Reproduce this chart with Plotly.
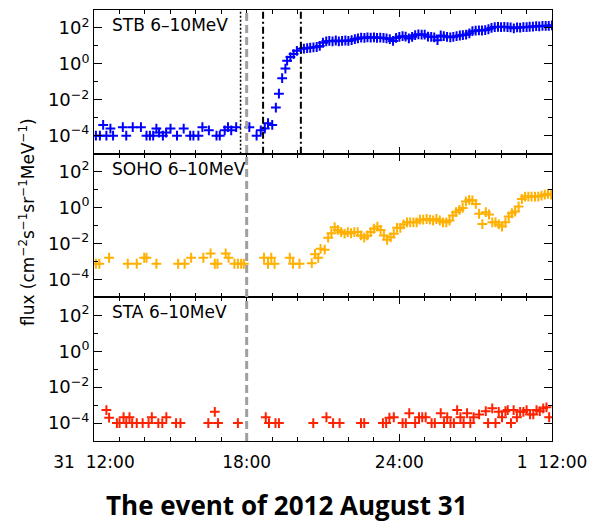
import plotly.graph_objects as go

# x = hours after 2012-08-31 12:00 UT
stb_hours = [0.10, 0.31, 0.48, 0.65, 0.86, 1.00, 1.51, 1.69, 2.03, 2.46, 2.75, 2.93, 3.10, 3.27, 3.41,
             3.61, 3.78, 4.01, 4.35, 4.70, 5.04, 5.21, 5.47, 5.68, 6.02, 6.42, 6.59, 6.85, 7.02, 7.19,
             7.45, 8.14, 8.52, 8.74, 8.95, 9.12, 9.34, 9.53, 9.69, 9.86, 10.03, 10.12, 10.29, 10.46,
             10.63, 10.85,
             11.00, 11.17, 11.33, 11.50, 11.67, 11.83, 12.00, 12.17, 12.33, 12.50, 12.67, 12.83, 13.00,
             13.17, 13.33, 13.50, 13.67, 13.83, 14.00, 14.17, 14.33, 14.50, 14.67, 14.83, 15.00, 15.17,
             15.33, 15.50, 15.67, 15.83, 16.00, 16.17, 16.33, 16.50, 16.67, 16.83, 17.00, 17.17, 17.33,
             17.50, 17.67, 17.83, 18.00, 18.17, 18.33, 18.50, 18.67, 18.83, 19.00, 19.17, 19.33, 19.50,
             19.67, 19.83, 20.00, 20.17, 20.33, 20.50, 20.67, 20.83, 21.00, 21.17, 21.33, 21.50, 21.67,
             21.83, 22.00, 22.17, 22.33, 22.50, 22.67, 22.83, 23.00, 23.17, 23.33, 23.50, 23.67, 23.83,
             24.00]
stb_flux = [1e-4, 1e-4, 4e-4, 1e-4, 2.5e-4, 1e-4, 3e-4, 1e-4, 3e-4, 3e-4, 1e-4, 1e-4, 1e-4, 2.5e-4, 1.5e-4,
            1e-4, 1.5e-4, 2.5e-4, 1e-4, 2.5e-4, 1e-4, 1e-4, 1e-4, 3e-4, 2e-4, 1e-4, 1e-4, 2e-4, 3e-4, 2e-4,
            3e-4, 3e-4, 1e-4, 2e-4, 2.5e-4, 5e-4, 4e-4, 3.7e-3, 2.2e-2, 0.16, 0.55, 1.5, 2.4, 3.5,
            5.3, 7.0,
            7.1, 7.6, 7.9, 8.3, 8.7, 10, 15, 18, 19, 18, 20, 18, 19,
            20, 19, 21, 24, 26, 29, 28, 30, 29, 30, 28, 29, 28,
            26, 24, 19, 28, 32, 35, 33, 26, 32, 40, 44, 42, 43,
            33, 32, 30, 21, 38, 35, 32, 30, 32, 35, 38, 40, 42,
            50, 66, 71, 74, 72, 76, 85, 100, 112, 115, 112, 115, 110,
            107, 95, 107, 105, 112, 110, 117, 120, 126, 123, 132, 129, 132,
            141]

soho_hours = [0.10, 0.28, 0.79, 1.77, 2.24, 2.63, 2.75, 3.27, 4.41, 4.75, 5.09, 5.73, 6.11, 6.33, 6.47,
              6.90, 7.05, 7.36, 7.54, 7.71, 7.85, 8.91, 9.12, 9.29, 9.46, 10.26, 10.43, 10.77,
              11.41, 11.58, 11.75, 11.87, 12.09, 12.27, 12.44, 12.61, 12.78, 12.95, 13.13, 13.30, 13.47,
              13.64, 13.82, 13.99, 14.16, 14.33, 14.50, 14.67, 14.85, 15.02, 15.19, 15.36, 15.54, 15.71,
              15.88, 16.05, 16.22, 16.40, 16.57, 16.74, 16.91, 17.08, 17.25, 17.43, 17.60, 17.77, 17.94,
              18.12, 18.29, 18.46, 18.63, 18.80, 18.97, 19.15, 19.32, 19.49, 19.66, 19.83, 20.01, 20.18,
              20.35, 20.53, 20.70, 20.87, 21.04, 21.21, 21.38, 21.56, 21.73, 21.90, 22.07, 22.25, 22.42,
              22.59, 22.76, 22.93, 23.11, 23.28, 23.45, 23.62, 23.79, 23.96]
soho_flux = [7.4e-4, 7.4e-4, 1.6e-3, 7.4e-4, 7.4e-4, 1.6e-3, 1.6e-3, 7.4e-4, 7.4e-4, 7.4e-4, 1.6e-3, 1.6e-3,
             2.8e-3, 7.4e-4, 7.4e-4, 2.8e-3, 1.6e-3, 7.4e-4, 7.4e-4, 7.4e-4, 7.4e-4, 1.6e-3, 7.4e-4, 1.6e-3,
             7.4e-4, 1.6e-3, 7.4e-4, 7.4e-4,
             8e-4, 2.5e-3, 1.6e-3, 5e-3, 4.5e-3, 2.1e-2, 3.7e-2, 8e-2, 5.7e-2, 4.3e-2, 3.5e-2, 4.3e-2, 3.7e-2,
             4.3e-2, 4.3e-2, 2.8e-2, 2.1e-2, 2.8e-2, 4.3e-2, 6.6e-2, 8.7e-2, 5.7e-2, 2.8e-2, 1.6e-2, 2.2e-2,
             3.5e-2, 7.4e-2, 7.4e-2, 0.115, 0.15, 0.15, 0.15, 0.15, 0.21, 0.21, 0.23, 0.21, 0.19, 0.23,
             0.19, 0.15, 0.15, 0.19, 0.36, 0.55, 0.74, 0.95, 2.2, 2.7, 2.5, 1.6, 0.45,
             0.12, 0.55, 0.41, 0.15, 0.15, 0.115, 0.087, 0.15, 0.32, 0.48, 0.6, 1.15, 3.0,
             4.1, 4.1, 4.1, 4.1, 4.1, 4.6, 5.2, 5.8, 5.2]

sta_hours = [0.65, 0.79, 1.20, 1.34, 1.55, 1.69, 1.86, 2.00, 2.24, 2.55, 2.86, 3.03, 3.37, 3.58, 3.79,
             4.30, 4.53, 5.99, 6.33, 6.50, 7.54, 9.00, 9.17, 9.51, 9.69,
             11.49, 12.18, 12.53, 12.87, 13.99, 14.16, 15.14, 15.31, 15.48, 15.71, 16.17, 16.34, 16.52,
             16.83, 17.03, 17.20, 17.38, 17.69, 17.86, 18.17, 18.34, 18.51, 18.68, 18.86, 19.03, 19.20,
             19.37, 19.55, 19.72, 19.89, 20.18, 20.53, 20.65, 20.87, 21.04, 21.21, 21.38, 21.56, 21.68,
             21.85, 21.99, 22.16, 22.33, 22.50, 22.67, 22.85, 23.02, 23.19, 23.36, 23.54, 23.71, 23.85]
sta_flux = [5.3e-4, 2e-4, 1e-4, 1e-4, 2.1e-4, 1e-4, 2.1e-4, 1e-4, 1e-4, 1e-4, 1e-4, 2.1e-4, 1e-4, 1e-4, 2.1e-4,
            1e-4, 1e-4, 1e-4, 4.2e-4, 1e-4, 1e-4, 2.1e-4, 1e-4, 1e-4, 1e-4,
            1e-4, 2.1e-4, 1e-4, 1e-4, 1e-4, 1e-4, 1e-4, 1e-4, 2e-4, 2.1e-4, 1e-4, 1e-4, 3.5e-4,
            1e-4, 2.1e-4, 2.1e-4, 2.1e-4, 1e-4, 1e-4, 3.5e-4, 1e-4, 2.1e-4, 1e-4, 1e-4, 5.3e-4, 2.1e-4,
            1e-4, 3.5e-4, 1e-4, 2.1e-4, 3e-4, 4.6e-4, 1e-4, 6.6e-4, 1e-4, 4.2e-4, 2.1e-4, 4.6e-4, 5.3e-4,
            1e-4, 5.3e-4, 2.1e-4, 4.2e-4, 4.2e-4, 5.3e-4, 3e-4, 3e-4, 5.3e-4, 4.6e-4, 6.6e-4, 7.5e-4, 2.1e-4]

panel_labels = ["STB 6–10MeV", "SOHO 6–10MeV", "STA 6–10MeV"]
x_tick_vals = [0, 8, 16, 24]
x_tick_text = ["31\u00a0\u00a012:00", "18:00", "24:00", "1\u00a0\u00a012:00"]
y_tick_vals = [1e-4, 1e-2, 1, 1e2]
y_tick_text = ["10<sup>−4</sup>", "10<sup>−2</sup>", "10<sup>0</sup>", "10<sup>2</sup>"]
y_minor_vals = [1e-5, 1e-3, 1e-1, 1e1, 1e3]
dotted_line_hour = 7.68
gray_line_hour = 8.0
dashdot_line_hours = [8.86, 10.84]

fig = go.Figure()
series = [(stb_hours, stb_flux, "#0000FF", "x", "y"),
          (soho_hours, soho_flux, "#FFB000", "x2", "y2"),
          (sta_hours, sta_flux, "#FF2200", "x3", "y3")]
for xs, ys, col, xa, ya in series:
    fig.add_trace(go.Scatter(x=xs, y=ys, mode="markers", xaxis=xa, yaxis=ya,
                             marker=dict(symbol="cross-thin", size=7, line=dict(color=col, width=2)),
                             showlegend=False))

axis_font = dict(family="DejaVu Sans", size=17, color="black")
domains = [[2/3, 1.0], [1/3, 2/3], [0.0, 1/3]]
for i, dom in enumerate(domains):
    sfx = "" if i == 0 else str(i + 1)
    fig.layout["xaxis" + sfx] = dict(
        domain=[0, 1], anchor="y" + sfx, range=[0, 24], showgrid=False, zeroline=False,
        showline=True, linecolor="black", linewidth=1, mirror="ticks",
        ticks="inside", ticklen=7, tickwidth=1.2, tickcolor="black",
        tickvals=x_tick_vals, ticktext=x_tick_text,
        showticklabels=(i == 2), tickfont=axis_font, ticklabelstandoff=6,
        minor=dict(dtick=4/3, tick0=0, ticks="inside", ticklen=4, tickwidth=1, tickcolor="black"))
    fig.layout["yaxis" + sfx] = dict(
        domain=dom, anchor="x" + sfx, type="log", range=[-5, 3],
        tickvals=y_tick_vals, ticktext=y_tick_text, showgrid=False, zeroline=False,
        showline=True, linecolor="black", linewidth=1, mirror="ticks",
        ticks="inside", ticklen=8, tickwidth=1.2, tickcolor="black",
        tickfont=dict(family="DejaVu Sans", size=18, color="black"),
        minor=dict(tickvals=y_minor_vals, ticks="inside", ticklen=4, tickwidth=1, tickcolor="black"))
    fig.add_annotation(text=panel_labels[i], xref="x%s domain" % sfx, yref="y%s domain" % sfx,
                       x=0.034, y=0.895, xanchor="left", yanchor="middle", showarrow=False,
                       font=dict(family="DejaVu Sans", size=17, color="black"))

# vertical marker lines
fig.add_shape(type="line", xref="x", yref="paper", x0=gray_line_hour, x1=gray_line_hour, y0=0, y1=1,
              line=dict(color="#A0A0A0", width=3, dash="8px,4px"))
fig.add_shape(type="line", xref="x", yref="y domain", x0=dotted_line_hour, x1=dotted_line_hour, y0=0, y1=1,
              line=dict(color="black", width=1.5, dash="2px,2px"))
for h in dashdot_line_hours:
    fig.add_shape(type="line", xref="x", yref="y domain", x0=h, x1=h, y0=0, y1=1,
                  line=dict(color="black", width=2, dash="7px,3px,2px,3px"))

fig.add_annotation(text="flux (cm<sup>−2</sup>s<sup>−1</sup>sr<sup>−1</sup>MeV<sup>−1</sup>)",
                   xref="paper", yref="paper", x=-0.145, y=0.507, textangle=-90,
                   xanchor="center", yanchor="middle",
                   showarrow=False, font=dict(family="DejaVu Sans", size=17, color="black"))
fig.add_annotation(text="<b>The event of 2012 August 31</b>", xref="paper", yref="paper",
                   x=0.4215, y=-0.148, xanchor="center", yanchor="middle", showarrow=False,
                   borderpad=0, font=dict(family="Open Sans", size=26, color="black"))

fig.update_layout(width=596, height=524, margin=dict(l=94, r=37, t=9, b=83),
                  paper_bgcolor="white", plot_bgcolor="white", showlegend=False)
fig.write_html("out.html")
